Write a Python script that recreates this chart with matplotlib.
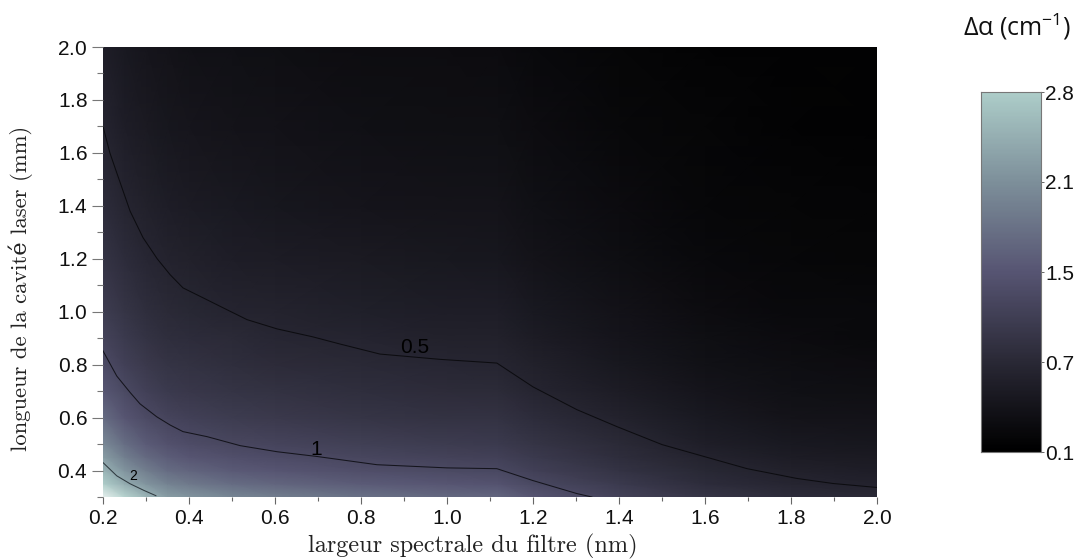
import numpy as np
import matplotlib
matplotlib.use("Agg")
import matplotlib.pyplot as plt
from matplotlib.colors import LinearSegmentedColormap, Normalize
from matplotlib.ticker import MultipleLocator

W, H = 1078, 559

# table: filter width (nm), cavity length (mm), delta alpha (cm-1)
largeur = [0.2, 0.25, 0.3, 0.35, 0.4, 0.5, 0.6, 0.8, 1.0, 1.12, 1.2, 1.4, 1.6, 1.8, 2.0]
longueur = [0.3, 0.35, 0.4, 0.45, 0.5, 0.6, 0.7, 0.8, 0.9, 1.0, 1.2, 1.4, 1.7, 2.0]
delta_alpha = [
    [3.50, 2.60, 2.15, 1.90, 1.80, 1.67, 1.58, 1.47, 1.38, 1.35, 1.19, 0.93, 0.72, 0.60, 0.55],
    [2.43, 2.06, 1.80, 1.63, 1.54, 1.43, 1.36, 1.26, 1.19, 1.16, 1.02, 0.80, 0.61, 0.51, 0.47],
    [2.13, 1.80, 1.58, 1.43, 1.35, 1.25, 1.19, 1.10, 1.04, 1.01, 0.90, 0.70, 0.54, 0.45, 0.41],
    [1.89, 1.60, 1.40, 1.27, 1.20, 1.11, 1.06, 0.98, 0.92, 0.90, 0.80, 0.62, 0.48, 0.40, 0.37],
    [1.70, 1.44, 1.26, 1.14, 1.08, 1.00, 0.95, 0.88, 0.83, 0.81, 0.72, 0.56, 0.43, 0.36, 0.33],
    [1.42, 1.20, 1.05, 0.95, 0.90, 0.83, 0.79, 0.73, 0.69, 0.68, 0.60, 0.47, 0.36, 0.30, 0.28],
    [1.21, 1.03, 0.90, 0.81, 0.77, 0.71, 0.68, 0.63, 0.59, 0.58, 0.51, 0.40, 0.31, 0.26, 0.24],
    [1.06, 0.90, 0.79, 0.71, 0.68, 0.63, 0.59, 0.55, 0.52, 0.51, 0.45, 0.35, 0.27, 0.23, 0.21],
    [0.94, 0.80, 0.70, 0.63, 0.60, 0.56, 0.53, 0.49, 0.46, 0.45, 0.40, 0.31, 0.24, 0.20, 0.18],
    [0.85, 0.72, 0.63, 0.57, 0.54, 0.50, 0.48, 0.44, 0.42, 0.41, 0.36, 0.28, 0.22, 0.18, 0.17],
    [0.71, 0.60, 0.53, 0.48, 0.45, 0.42, 0.40, 0.37, 0.35, 0.34, 0.30, 0.23, 0.18, 0.15, 0.14],
    [0.61, 0.51, 0.45, 0.41, 0.39, 0.36, 0.34, 0.31, 0.30, 0.29, 0.26, 0.20, 0.15, 0.13, 0.12],
    [0.50, 0.42, 0.37, 0.34, 0.32, 0.29, 0.28, 0.26, 0.24, 0.24, 0.21, 0.16, 0.13, 0.11, 0.10],
    [0.43, 0.36, 0.32, 0.29, 0.27, 0.25, 0.24, 0.22, 0.21, 0.20, 0.18, 0.14, 0.11, 0.10, 0.10],
]

# contour lines
c05_x = [0.2, 0.216, 0.233, 0.263, 0.293, 0.326, 0.356, 0.386, 0.442, 0.479, 0.535, 0.605, 0.688, 0.751,
         0.844, 0.984, 1.116, 1.2, 1.302, 1.395, 1.5, 1.6, 1.698, 1.814, 1.898, 2.0]
c05_y = [1.70, 1.60, 1.52, 1.38, 1.28, 1.20, 1.14, 1.09, 1.045, 1.015, 0.97, 0.935, 0.905, 0.878,
         0.84, 0.82, 0.806, 0.716, 0.63, 0.566, 0.498, 0.452, 0.407, 0.37, 0.351, 0.336]
c1_x = [0.2, 0.232, 0.263, 0.286, 0.325, 0.356, 0.386, 0.442, 0.519, 0.605, 0.698, 0.837, 1.0, 1.116, 1.2, 1.302, 1.337]
c1_y = [0.852, 0.757, 0.695, 0.652, 0.603, 0.572, 0.547, 0.528, 0.494, 0.471, 0.453, 0.422, 0.41, 0.407, 0.362, 0.313, 0.30]
c2_x = [0.2, 0.232, 0.263, 0.295, 0.323]
c2_y = [0.43, 0.38, 0.35, 0.325, 0.305]

cbar_ticks = [0.1, 0.775, 1.45, 2.125, 2.8]
cbar_labels = ["0.1", "0.7", "1.5", "2.1", "2.8"]

colors = ["#000000", "#2a2936", "#575573", "#7d8f9a", "#adcdc9", "#e8f1ef"]
mesh_levels = [0.06, 0.55, 1.2, 1.75, 2.4, 3.5]
bar_levels = [0.1, 0.775, 1.45, 2.125, 2.8, 3.8]


def make_cmap(levels):
    lo, hi = levels[0], levels[-1]
    nodes = [((v - lo) / (hi - lo), c) for v, c in zip(levels, colors)]
    return LinearSegmentedColormap.from_list("delta", nodes), Normalize(lo, hi)


fig = plt.figure(figsize=(W / 100, H / 100), dpi=100)
sans = "Liberation Sans"
serif = ["cmr10", "DejaVu Serif"]
plt.rcParams["axes.formatter.use_mathtext"] = True
plt.rcParams["mathtext.default"] = "regular"

ax = fig.add_axes([103 / W, 1 - 497 / H, 774 / W, 450 / H])
cmap, norm = make_cmap(mesh_levels)
ax.pcolormesh(largeur, longueur, np.array(delta_alpha), cmap=cmap, norm=norm, shading="gouraud")
ax.plot(c05_x, c05_y, color="#0c0c10", lw=0.75)
ax.plot(c1_x, c1_y, color="#14141c", lw=0.75)
ax.plot(c2_x, c2_y, color="#2f3a40", lw=0.75)
ax.text(0.925, 0.865, "0.5", fontsize=15, family=sans, color="#000000", ha="center", va="center")
ax.text(0.695, 0.48, "1", fontsize=15, family=sans, color="#000000", ha="center", va="center")
ax.text(0.27, 0.38, "2", fontsize=10, family=sans, color="#000000", ha="center", va="center")

ax.set_xlim(0.2, 2.0)
ax.set_ylim(0.3, 2.0)
ax.xaxis.set_major_locator(MultipleLocator(0.2))
ax.xaxis.set_minor_locator(MultipleLocator(0.1))
ax.yaxis.set_major_locator(MultipleLocator(0.2))
ax.yaxis.set_minor_locator(MultipleLocator(0.1))
ax.tick_params(axis="x", which="major", length=5, width=0.8, color="#666666", pad=4, labelsize=15)
ax.tick_params(axis="x", which="minor", length=3, width=0.8, color="#666666")
ax.tick_params(axis="y", which="major", length=8, width=0.8, color="#777777", pad=3, labelsize=15)
ax.tick_params(axis="y", which="minor", length=4.5, width=0.8, color="#777777")
for lab in ax.get_xticklabels() + ax.get_yticklabels():
    lab.set_family(sans)
    lab.set_color("#111111")
for side in ax.spines.values():
    side.set_visible(False)
fig.text(473 / W, 1 - 546 / H, "largeur spectrale du filtre (nm)", family=serif, fontsize=17.5,
         color="#222222", ha="center", va="center")
fig.text(21 / W, 1 - 288 / H, "longueur de la cavité laser (mm)", family=serif, fontsize=16.3,
         color="#222222", ha="center", va="center", rotation=90)

# colour bar
cax = fig.add_axes([981 / W, 1 - 452 / H, 60 / W, 360 / H])
bar_cmap, bar_norm = make_cmap(bar_levels)
cax.imshow(np.linspace(2.8, 0.1, 256)[:, None], cmap=bar_cmap, norm=bar_norm, aspect="auto",
           extent=(0, 1, 0.1, 2.8))
cax.set_xticks([])
cax.yaxis.tick_right()
cax.set_yticks(cbar_ticks, cbar_labels, family=sans, fontsize=15, color="#111111")
cax.tick_params(axis="y", length=2, width=0.7, color="#666666", pad=1)
for side in cax.spines.values():
    side.set_color("#777777")
    side.set_linewidth(0.8)

fig.text(1017 / W, 1 - 27 / H, "Δα (cm$^{-1}$)", family="Open Sans", fontsize=18, color="#111111",
         ha="center", va="center")

fig.savefig("out.png", dpi=100)
